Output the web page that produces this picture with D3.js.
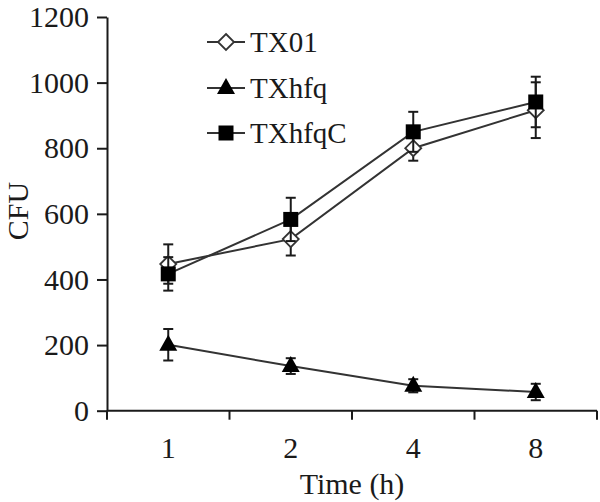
<!DOCTYPE html>
<html>
<head>
<meta charset="utf-8">
<script src="https://cdn.jsdelivr.net/npm/d3@7"></script>
<style>
  body { margin: 0; background: #fff; }
</style>
</head>
<body>
<div id="chart"></div>
<script>
// categories (hours) and series values
const times = ["1", "2", "4", "8"];
const tx01 = [447, 523, 800, 916];
const tx01Err = [60, 50, 38, 85];
const txhfq = [201, 136, 76, 57];
const txhfqErr = [48, 24, 20, 25];
const txhfqC = [417, 583, 850, 941];
const txhfqCErr = [51, 66, 61, 77];
const yTicks = [0, 200, 400, 600, 800, 1000, 1200];

const series = [
  {name: "TX01", values: tx01, err: tx01Err, shape: "diamond"},
  {name: "TXhfq", values: txhfq, err: txhfqErr, shape: "triangle"},
  {name: "TXhfqC", values: txhfqC, err: txhfqCErr, shape: "square"}
];

const width = 600, height = 502;
const font = "'Liberation Serif', 'Times New Roman', Times, serif";
const axisFont = "30px";
const legendFont = "29px";
const svg = d3.select("#chart").append("svg")
  .attr("width", width).attr("height", height);

// scales
const x = d3.scaleBand().domain(times).range([107, 597]);
const y = d3.scaleLinear().domain([0, 1200]).range([410.7, 17]);

const ink = "#1a1a1a";

// y axis
const yAxis = svg.append("g")
  .attr("transform", "translate(107,0)")
  .call(d3.axisLeft(y).tickValues(yTicks).tickFormat(d3.format("d"))
    .tickSize(10).tickSizeOuter(0).tickPadding(8));
yAxis.select(".domain").attr("stroke", ink).attr("stroke-width", 2);
yAxis.selectAll(".tick line").attr("stroke", ink).attr("stroke-width", 2);
yAxis.selectAll(".tick text")
  .style("font-family", font).style("font-size", axisFont).attr("fill", ink);

// x axis, ticks at the band boundaries
const xAxis = svg.append("g")
  .attr("transform", `translate(0,${y(0)})`)
  .call(d3.axisBottom(x).tickSize(0).tickPadding(26));
xAxis.select(".domain").remove();
xAxis.append("line")
  .attr("x1", x.range()[0]).attr("x2", x.range()[1])
  .attr("stroke", ink).attr("stroke-width", 2);
xAxis.selectAll(".bound")
  .data(times.map(t => x(t)).concat([x.range()[1]]))
  .join("line")
  .attr("x1", d => d).attr("x2", d => d)
  .attr("y1", 0).attr("y2", 9)
  .attr("stroke", ink).attr("stroke-width", 2);
xAxis.selectAll(".tick text")
  .style("font-family", font).style("font-size", axisFont).attr("fill", ink);

// axis titles
svg.append("text")
  .attr("transform", `translate(28,211) rotate(-90)`)
  .attr("text-anchor", "middle")
  .style("font-family", font).style("font-size", axisFont).attr("fill", ink)
  .text("CFU");
svg.append("text")
  .attr("x", 352).attr("y", 494)
  .attr("text-anchor", "middle")
  .style("font-family", font).style("font-size", axisFont).attr("fill", ink)
  .text("Time (h)");

const cx = t => x(t) + x.bandwidth() / 2;

function marker(g, shape, px, py) {
  if (shape === "diamond") {
    g.append("path")
      .attr("d", `M${px},${py - 8}L${px + 8},${py}L${px},${py + 8}L${px - 8},${py}Z`)
      .attr("fill", "#fff").attr("stroke", "#333").attr("stroke-width", 1.8);
  } else if (shape === "square") {
    g.append("rect")
      .attr("x", px - 7.5).attr("y", py - 7.5)
      .attr("width", 15).attr("height", 15)
      .attr("fill", "#000");
  } else {
    g.append("path")
      .attr("d", `M${px},${py - 10}L${px + 9},${py + 6}L${px - 9},${py + 6}Z`)
      .attr("fill", "#000");
  }
}

const line = d3.line().x(d => cx(d.t)).y(d => y(d.v));

series.forEach(s => {
  const pts = times.map((t, i) => ({t, v: s.values[i], e: s.err[i]}));
  const g = svg.append("g");
  // error bars
  pts.forEach(p => {
    const px = cx(p.t);
    g.append("line").attr("x1", px).attr("x2", px)
      .attr("y1", y(p.v - p.e)).attr("y2", y(p.v + p.e))
      .attr("stroke", ink).attr("stroke-width", 2);
    [p.v - p.e, p.v + p.e].forEach(v => {
      g.append("line").attr("x1", px - 5).attr("x2", px + 5)
        .attr("y1", y(v)).attr("y2", y(v))
        .attr("stroke", ink).attr("stroke-width", 2);
    });
  });
  g.append("path").datum(pts)
    .attr("d", line)
    .attr("fill", "none").attr("stroke", "#333").attr("stroke-width", 2);
  pts.forEach(p => marker(g, s.shape, cx(p.t), y(p.v)));
});

// legend
const legendY = [42, 88, 133];
series.forEach((s, i) => {
  const g = svg.append("g");
  g.append("line").attr("x1", 207).attr("x2", 245)
    .attr("y1", legendY[i]).attr("y2", legendY[i])
    .attr("stroke", "#333").attr("stroke-width", 2);
  marker(g, s.shape, 226, legendY[i]);
  g.append("text")
    .attr("x", 250).attr("y", legendY[i])
    .attr("dy", "0.35em")
    .style("font-family", font).style("font-size", legendFont).attr("fill", ink)
    .text(s.name);
});
</script>
</body>
</html>
